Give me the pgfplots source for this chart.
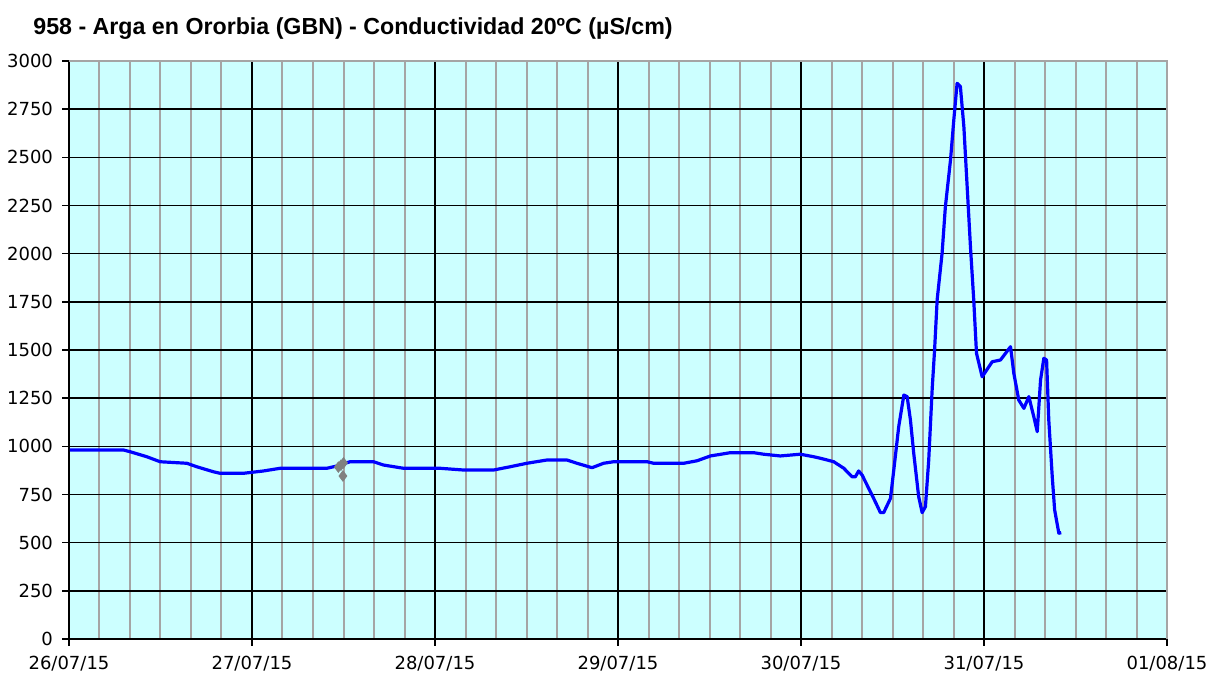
\documentclass[border=0pt]{standalone}
\usepackage{pgfplots}
\pgfplotsset{compat=1.18}
\usepackage{fontspec}
\setmainfont{DejaVu Sans}
\newfontfamily\titlefont{Liberation Sans}
\definecolor{bgc}{RGB}{204,255,255}
\definecolor{mgrid}{RGB}{165,165,165}
\definecolor{lblue}{RGB}{0,0,255}
\definecolor{gmark}{RGB}{128,128,128}
\begin{document}
\begin{tikzpicture}
\path[use as bounding box] (-34.5pt,-17pt) rectangle (571pt,319.5pt);
\begin{axis}[
  at={(0,0)}, anchor=south west,
  scale only axis, width=549pt, height=289pt,
  xmin=0, xmax=6, ymin=0, ymax=3000,
  axis lines=left, axis line style={-, black, line width=0.8pt},
  xtick={0,1,2,3,4,5,6},
  xticklabels={26/07/15,27/07/15,28/07/15,29/07/15,30/07/15,31/07/15,01/08/15},
  minor x tick num=5,
  ytick={0,250,...,3000},
  tick align=outside, major tick length=3.5pt, minor tick length=0pt,
  tick style={black, line width=0.8pt},
  grid=both,
  major grid style={black, line width=0.7pt},
  minor grid style={mgrid, line width=1pt},
  axis background/.style={fill=bgc},
  tick label style={font=\fontsize{9}{10}\selectfont},
  /pgf/number format/assume math mode=true,
  /pgf/number format/1000 sep={},
  xticklabel style={yshift=-1.5pt},
  yticklabel style={xshift=-1pt},
  clip=false,
]
\draw[mgrid, line width=1pt] (rel axis cs:0,1) -- (rel axis cs:1,1) -- (rel axis cs:1,0);
\addplot[lblue, line width=1.6pt, line join=round, mark=none] coordinates {
(0.005,981) (0.297,981) (0.334,972) (0.425,946) (0.498,920) (0.644,912) (0.698,894)
(0.789,868) (0.826,860) (0.953,860) (1.062,872) (1.154,886) (1.409,886) (1.464,898)
(1.536,920) (1.664,920) (1.718,903) (1.828,886) (2.028,886) (2.156,877) (2.320,877)
(2.411,894) (2.502,912) (2.612,929) (2.721,929) (2.776,912) (2.858,889) (2.921,912)
(2.976,920) (3.159,920) (3.195,912) (3.359,912) (3.432,925) (3.505,950) (3.614,967)
(3.741,967) (3.796,959) (3.887,950) (3.996,959) (4.069,946) (4.106,938) (4.143,929)
(4.179,920) (4.234,886) (4.279,842) (4.297,842) (4.315,872) (4.334,851) (4.361,799)
(4.397,730) (4.434,656) (4.452,656) (4.489,730) (4.507,877) (4.534,1102) (4.562,1266)
(4.580,1258) (4.598,1137) (4.616,964) (4.643,739) (4.662,656) (4.680,687) (4.698,929)
(4.717,1300) (4.730,1500) (4.744,1760) (4.771,2002) (4.789,2244) (4.817,2486)
(4.835,2694) (4.853,2884) (4.871,2867) (4.890,2659) (4.908,2348) (4.926,2036)
(4.944,1759) (4.959,1483) (4.990,1361) (5.045,1439) (5.090,1448) (5.145,1517)
(5.163,1379) (5.190,1240) (5.218,1197) (5.245,1258) (5.272,1154) (5.291,1076)
(5.309,1344) (5.327,1457) (5.342,1448) (5.354,1137) (5.373,842) (5.386,670)
(5.409,549) (5.422,552)
};
\addplot[only marks, mark=diamond*, mark size=2.6pt, gmark, mark options={fill=gmark, draw=gmark}] coordinates {
(1.472,892) (1.486,902) (1.500,914) (1.497,846)
};
\end{axis}
\node[anchor=west, font=\titlefont\bfseries\fontsize{11.6}{13}\selectfont, inner sep=0pt] at (-18pt,305pt) {958 - Arga en Ororbia (GBN) - Conductividad 20ºC (µS/cm)};
\end{tikzpicture}
\end{document}
